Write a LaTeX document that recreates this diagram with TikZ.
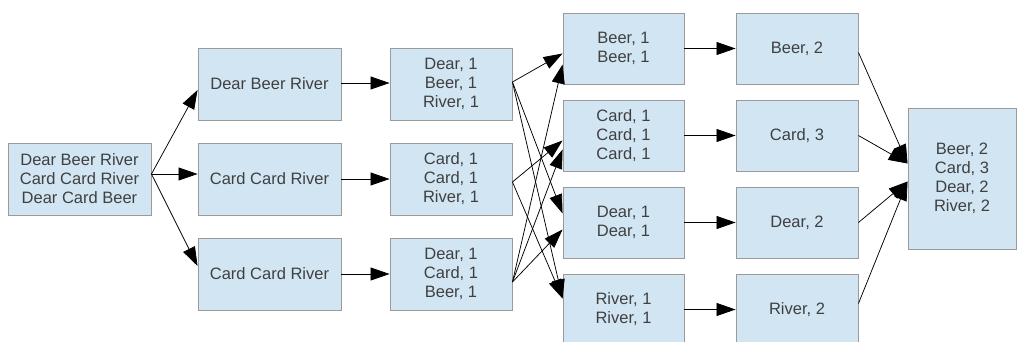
\documentclass[tikz,border=0pt]{standalone}
\usepackage{fontspec}
\setmainfont{Liberation Sans}
\usetikzlibrary{arrows.meta,calc}
\definecolor{boxfill}{HTML}{D1E5F3}
\definecolor{boxline}{HTML}{9A9A9A}
\definecolor{txt}{HTML}{404040}
\tikzset{
  bx/.style={draw=boxline, line width=0.9pt, fill=boxfill, text=txt, align=center,
    inner sep=0pt, font=\fontsize{16.5}{19}\selectfont},
  ar/.style={-{Triangle[length=19pt,width=13pt]}, line width=0.75pt, black}
}
\begin{document}
\begin{tikzpicture}[x=1pt,y=-1pt]
\useasboundingbox (0,0) rectangle (1018,342);
% input
\node[bx, minimum width=143pt, minimum height=72pt] (in) at (79.5,179) {Dear Beer River\\Card Card River\\Dear Card Beer};
% column 1
\node[bx, minimum width=143pt, minimum height=72pt] (c1a) at (269.5,84) {Dear Beer River};
\node[bx, minimum width=143pt, minimum height=72pt] (c1b) at (269.5,179) {Card Card River};
\node[bx, minimum width=143pt, minimum height=72pt] (c1c) at (269.5,274) {Card Card River};
% column 2
\node[bx, minimum width=122pt, minimum height=72pt] (c2a) at (451,84) {Dear, 1\\Beer, 1\\River, 1};
\node[bx, minimum width=122pt, minimum height=72pt] (c2b) at (451,179) {Card, 1\\Card, 1\\River, 1};
\node[bx, minimum width=122pt, minimum height=72pt] (c2c) at (451,274) {Dear, 1\\Card, 1\\Beer, 1};
% column 3
\node[bx, minimum width=121pt, minimum height=71pt] (c3a) at (623.5,48.5) {Beer, 1\\Beer, 1};
\node[bx, minimum width=121pt, minimum height=71pt] (c3b) at (623.5,135.5) {Card, 1\\Card, 1\\Card, 1};
\node[bx, minimum width=121pt, minimum height=71pt] (c3c) at (623.5,222.5) {Dear, 1\\Dear, 1};
\node[bx, minimum width=121pt, minimum height=71pt] (c3d) at (623.5,309.5) {River, 1\\River, 1};
% column 4
\node[bx, minimum width=122pt, minimum height=71pt] (c4a) at (797,48.5) {Beer, 2};
\node[bx, minimum width=122pt, minimum height=71pt] (c4b) at (797,135.5) {Card, 3};
\node[bx, minimum width=122pt, minimum height=71pt] (c4c) at (797,222.5) {Dear, 2};
\node[bx, minimum width=122pt, minimum height=71pt] (c4d) at (797,309.5) {River, 2};
% final
\node[bx, minimum width=108pt, minimum height=141pt] (fin) at (962,178.5) {Beer, 2\\Card, 3\\Dear, 2\\River, 2};
% input -> column 1
\coordinate (inE) at ($(in.east)+(0,-5)$);
\draw[ar] (inE) -- ($(c1a.west)+(0,6)$);
\draw[ar] (inE) -- (inE -| c1b.west);
\draw[ar] (inE) -- ($(c1c.west)+(0,-8)$);
% column 1 -> column 2
\draw[ar] ($(c1a.east)+(0,-1)$) -- ($(c2a.west)+(0,-1)$);
\draw[ar] (c1b.east) -- (c2b.west);
\draw[ar] (c1c.east) -- (c2c.west);
% column 2 -> column 3
\coordinate (s2a) at ($(c2a.east)+(0,-2)$);
\coordinate (s2b) at ($(c2b.east)+(0,3)$);
\coordinate (s2c) at ($(c2c.east)+(0,8)$);
\draw[ar] (s2a) -- ($(c3a.west)+(0,5)$);
\draw[ar] (s2a) -- ($(c3c.west)+(0,-9)$);
\draw[ar] (s2a) -- ($(c3d.west)+(0,-11)$);
\draw[ar] (s2b) -- ($(c3b.west)+(0,5)$);
\draw[ar] (s2b) -- ($(c3d.west)+(0,-11)$);
\draw[ar] (s2c) -- ($(c3c.west)+(0,7)$);
\draw[ar] (s2c) -- ($(c3b.west)+(0,14)$);
\draw[ar] (s2c) -- ($(c3a.west)+(0,16)$);
% column 3 -> column 4
\draw[ar] (c3a.east) -- (c4a.west);
\draw[ar] (c3b.east) -- (c4b.west);
\draw[ar] (c3c.east) -- (c4c.west);
\draw[ar] (c3d.east) -- (c4d.west);
% column 4 -> final
\draw[ar] ($(c4a.east)+(0,4)$) -- ($(fin.west)+(0,-15)$);
\draw[ar] (c4b.east) -- ($(fin.west)+(0,-15)$);
\draw[ar] (c4c.east) -- ($(fin.west)+(0,3)$);
\draw[ar] ($(c4d.east)+(0,-6)$) -- ($(fin.west)+(0,3)$);
\end{tikzpicture}
\end{document}
